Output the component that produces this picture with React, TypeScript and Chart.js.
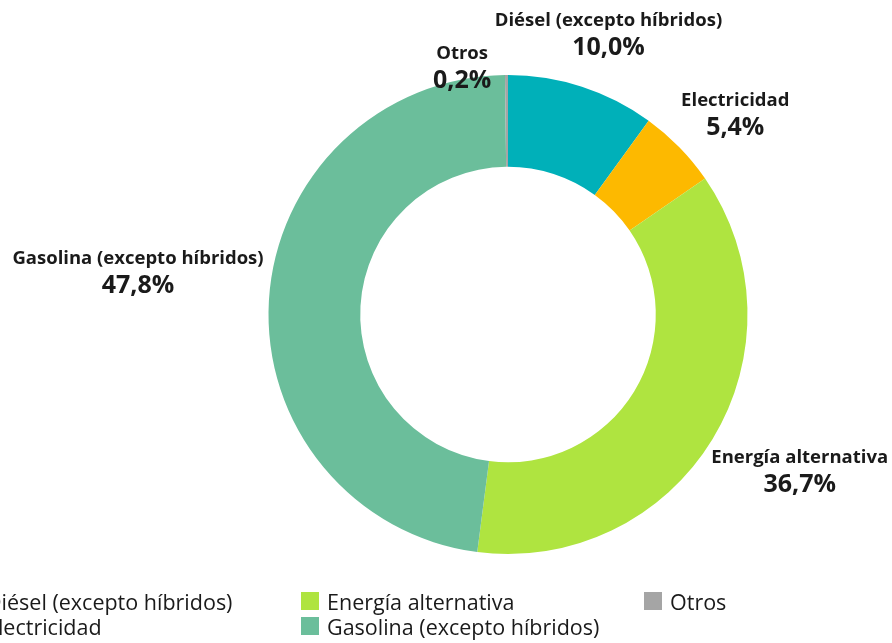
import React, { useEffect, useRef } from "react";
import { Chart, registerables } from "chart.js";

Chart.register(...registerables);

const categories = [
  "Diésel (excepto híbridos)",
  "Electricidad",
  "Energía alternativa",
  "Gasolina (excepto híbridos)",
  "Otros",
];
const shares = [10.0, 5.4, 36.7, 47.8, 0.2];
const shareLabels = ["10,0%", "5,4%", "36,7%", "47,8%", "0,2%"];
const colors = ["#00B0B9", "#FDB900", "#AFE440", "#6BBE9B", "#A5A5A5"];

// per-label nudges (px) relative to an anchor placed along each slice's mid-angle
const labelNudges = [
  [8, 4],
  [13, 9],
  [36, 0],
  [-71, -25],
  [-44, 52],
];
// legend order (column-major, 2 rows)
const legendOrder = [0, 1, 2, 3, 4];

const FONT = "'Open Sans', 'DejaVu Sans', sans-serif";

const labelPlugin = {
  id: "outerLabels",
  afterDraw(chart: any) {
    const ctx = chart.ctx;
    const meta = chart.getDatasetMeta(0);
    ctx.save();
    ctx.fillStyle = "#1a1a1a";
    ctx.textAlign = "center";
    ctx.textBaseline = "middle";
    meta.data.forEach((arc: any, i: number) => {
      const mid = (arc.startAngle + arc.endAngle) / 2;
      const r = arc.outerRadius + 60;
      const x = arc.x + Math.cos(mid) * r + labelNudges[i][0];
      const y = arc.y + Math.sin(mid) * r + labelNudges[i][1];
      ctx.font = `bold 18.5px ${FONT}`;
      ctx.fillText(categories[i], x, y - 13);
      ctx.font = `bold 25px ${FONT}`;
      ctx.fillText(shareLabels[i], x, y + 14);
    });
    // legend
    const colX = [-40, 301, 644];
    const rowY = [601, 626];
    const box = 18;
    ctx.textAlign = "left";
    ctx.font = `21.5px ${FONT}`;
    legendOrder.forEach((idx, k) => {
      const col = Math.floor(k / 2);
      const row = k % 2;
      const bx = colX[col];
      const by = rowY[row] - box / 2;
      ctx.fillStyle = colors[idx];
      ctx.fillRect(bx, by, box, box);
      ctx.fillStyle = "#1a1a1a";
      ctx.fillText(categories[idx], bx + 26, rowY[row] + 3);
    });
    ctx.restore();
  },
};

export default function App() {
  const ref = useRef<HTMLCanvasElement>(null);
  useEffect(() => {
    if (!ref.current) return;
    const chart = new Chart(ref.current, {
      type: "doughnut",
      data: {
        labels: categories,
        datasets: [
          {
            data: shares,
            backgroundColor: colors,
            borderWidth: 0,
          },
        ],
      },
      options: {
        responsive: false,
        animation: false,
        cutout: "61.7%",
        layout: { padding: { left: 268, right: 144, top: 75, bottom: 89 } },
        plugins: {
          legend: { display: false },
          tooltip: { enabled: false },
        },
      },
      plugins: [labelPlugin],
    });
    return () => chart.destroy();
  }, []);
  return (
    <div style={{ position: "fixed", left: 0, top: 0, width: 892, height: 643, background: "#fff" }}>
      <canvas ref={ref} width={892} height={643} style={{ display: "block" }} />
    </div>
  );
}
